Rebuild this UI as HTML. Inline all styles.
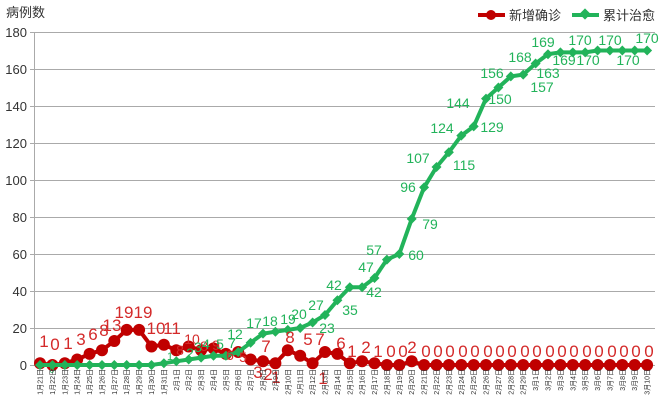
<!DOCTYPE html>
<html><head><meta charset="utf-8"><style>
body{margin:0;background:#fff}
svg{display:block;font-family:"Liberation Sans","Noto Sans CJK SC",sans-serif}
.rl{fill:#d42a2a;font-size:17px;text-anchor:middle}
.gl{fill:#22b35a;font-size:14px;text-anchor:middle}
.xl{font-size:7px;fill:#333;text-anchor:end}
.yl{font-size:13px;fill:#333;text-anchor:end}
</style></head><body>
<svg width="670" height="411" viewBox="0 0 670 411">
<text x="6" y="17" font-size="13" fill="#333">病例数</text>
<g stroke="#aaa" stroke-width="1">
<line x1="30" y1="32.5" x2="655" y2="32.5"/><line x1="30" y1="69.5" x2="655" y2="69.5"/>
<line x1="30" y1="106.5" x2="655" y2="106.5"/><line x1="30" y1="143.5" x2="655" y2="143.5"/>
<line x1="30" y1="180.5" x2="655" y2="180.5"/><line x1="30" y1="217.5" x2="655" y2="217.5"/>
<line x1="30" y1="254.5" x2="655" y2="254.5"/><line x1="30" y1="291.5" x2="655" y2="291.5"/>
<line x1="30" y1="328.5" x2="655" y2="328.5"/><line x1="30" y1="365.5" x2="655" y2="365.5"/>
<line x1="34.5" y1="32" x2="34.5" y2="366"/>
</g>
<g class="yl">
<text x="27" y="37">180</text><text x="27" y="74">160</text><text x="27" y="111">140</text>
<text x="27" y="148">120</text><text x="27" y="185">100</text><text x="27" y="222">80</text>
<text x="27" y="259">60</text><text x="27" y="296">40</text><text x="27" y="333">20</text><text x="27" y="370">0</text>
</g>
<!-- legend -->
<line x1="478" y1="15" x2="505" y2="15" stroke="#c00000" stroke-width="4"/><circle cx="491" cy="15" r="5" fill="#c00000"/>
<text x="509" y="20" font-size="13" fill="#333">新增确诊</text>
<line x1="572" y1="15" x2="599" y2="15" stroke="#22b35a" stroke-width="4"/><rect x="581" y="10" width="8" height="8" transform="rotate(45 585 14)" fill="#22b35a"/>
<text x="603" y="20" font-size="13" fill="#333">累计治愈</text>
<!-- red -->
<polyline fill="none" stroke="#c00000" stroke-width="4" points="40,363.2 52.4,365 64.8,363.2 77.2,359.5 89.6,353.9 102,350.2 114.3,341 126.7,329.9 139.1,329.9 151.5,346.5 163.9,344.7 176.3,350.2 188.7,346.5 201.1,350.2 213.5,348.4 225.9,353.9 238.2,352 250.6,359.5 263,361.3 275.4,363.2 287.8,350.2 300.2,355.8 312.6,363.2 325,352 337.4,353.9 349.8,363.2 362.1,361.3 374.5,363.2 386.9,365 399.3,365 411.7,361.3 424.1,365 436.5,365 448.9,365 461.3,365 473.7,365 486,365 498.4,365 510.8,365 523.2,365 535.6,365 548,365 560.4,365 572.8,365 585.2,365 597.6,365 609.9,365 622.3,365 634.7,365 647.1,365"/>
<g fill="#c00000">
<circle cx="40" cy="363.2" r="6"/><circle cx="52.4" cy="365" r="6"/><circle cx="64.8" cy="363.2" r="6"/><circle cx="77.2" cy="359.5" r="6"/><circle cx="89.6" cy="353.9" r="6"/><circle cx="102" cy="350.2" r="6"/><circle cx="114.3" cy="341" r="6"/><circle cx="126.7" cy="329.9" r="6"/><circle cx="139.1" cy="329.9" r="6"/><circle cx="151.5" cy="346.5" r="6"/><circle cx="163.9" cy="344.7" r="6"/><circle cx="176.3" cy="350.2" r="6"/><circle cx="188.7" cy="346.5" r="6"/><circle cx="201.1" cy="350.2" r="6"/><circle cx="213.5" cy="348.4" r="6"/><circle cx="225.9" cy="353.9" r="6"/><circle cx="238.2" cy="352" r="6"/><circle cx="250.6" cy="359.5" r="6"/><circle cx="263" cy="361.3" r="6"/><circle cx="275.4" cy="363.2" r="6"/><circle cx="287.8" cy="350.2" r="6"/><circle cx="300.2" cy="355.8" r="6"/><circle cx="312.6" cy="363.2" r="6"/><circle cx="325" cy="352" r="6"/><circle cx="337.4" cy="353.9" r="6"/><circle cx="349.8" cy="363.2" r="6"/><circle cx="362.1" cy="361.3" r="6"/><circle cx="374.5" cy="363.2" r="6"/><circle cx="386.9" cy="365" r="6"/><circle cx="399.3" cy="365" r="6"/><circle cx="411.7" cy="361.3" r="6"/><circle cx="424.1" cy="365" r="6"/><circle cx="436.5" cy="365" r="6"/><circle cx="448.9" cy="365" r="6"/><circle cx="461.3" cy="365" r="6"/><circle cx="473.7" cy="365" r="6"/><circle cx="486" cy="365" r="6"/><circle cx="498.4" cy="365" r="6"/><circle cx="510.8" cy="365" r="6"/><circle cx="523.2" cy="365" r="6"/><circle cx="535.6" cy="365" r="6"/><circle cx="548" cy="365" r="6"/><circle cx="560.4" cy="365" r="6"/><circle cx="572.8" cy="365" r="6"/><circle cx="585.2" cy="365" r="6"/><circle cx="597.6" cy="365" r="6"/><circle cx="609.9" cy="365" r="6"/><circle cx="622.3" cy="365" r="6"/><circle cx="634.7" cy="365" r="6"/><circle cx="647.1" cy="365" r="6"/>
</g>
<!-- green -->
<polyline fill="none" stroke="#22b35a" stroke-width="4" points="40,365 52.4,365 64.8,365 77.2,365 89.6,365 102,365 114.3,365 126.7,365 139.1,365 151.5,365 163.9,363.2 176.3,361.3 188.7,359.5 201.1,357.6 213.5,355.8 225.9,355.8 238.2,352 250.6,342.8 263,333.6 275.4,331.7 287.8,329.9 300.2,328 312.6,322.5 325,315 337.4,300.3 349.8,287.3 362.1,287.3 374.5,278 386.9,259.6 399.3,254 411.7,218.9 424.1,187.4 436.5,167 448.9,152.3 461.3,135.6 473.7,126.4 486,98.6 498.4,87.5 510.8,76.4 523.2,74.6 535.6,63.5 548,54.2 560.4,52.4 572.8,52.4 585.2,52.4 597.6,50.5 609.9,50.5 622.3,50.5 634.7,50.5 647.1,50.5"/>
<g fill="#22b35a">
<path d="M40,360l5,5l-5,5l-5,-5zM52.4,360l5,5l-5,5l-5,-5zM64.8,360l5,5l-5,5l-5,-5zM77.2,360l5,5l-5,5l-5,-5zM89.6,360l5,5l-5,5l-5,-5zM102,360l5,5l-5,5l-5,-5zM114.3,360l5,5l-5,5l-5,-5zM126.7,360l5,5l-5,5l-5,-5zM139.1,360l5,5l-5,5l-5,-5zM151.5,360l5,5l-5,5l-5,-5zM163.9,358.2l5,5l-5,5l-5,-5zM176.3,356.3l5,5l-5,5l-5,-5zM188.7,354.5l5,5l-5,5l-5,-5zM201.1,352.6l5,5l-5,5l-5,-5zM213.5,350.8l5,5l-5,5l-5,-5zM225.9,350.8l5,5l-5,5l-5,-5zM238.2,347l5,5l-5,5l-5,-5zM250.6,337.8l5,5l-5,5l-5,-5zM263,328.6l5,5l-5,5l-5,-5zM275.4,326.7l5,5l-5,5l-5,-5zM287.8,324.9l5,5l-5,5l-5,-5zM300.2,323l5,5l-5,5l-5,-5zM312.6,317.5l5,5l-5,5l-5,-5zM325,310l5,5l-5,5l-5,-5zM337.4,295.3l5,5l-5,5l-5,-5zM349.8,282.3l5,5l-5,5l-5,-5zM362.1,282.3l5,5l-5,5l-5,-5zM374.5,273l5,5l-5,5l-5,-5zM386.9,254.6l5,5l-5,5l-5,-5zM399.3,249l5,5l-5,5l-5,-5zM411.7,213.9l5,5l-5,5l-5,-5zM424.1,182.4l5,5l-5,5l-5,-5zM436.5,162l5,5l-5,5l-5,-5zM448.9,147.3l5,5l-5,5l-5,-5zM461.3,130.6l5,5l-5,5l-5,-5zM473.7,121.4l5,5l-5,5l-5,-5zM486,93.6l5,5l-5,5l-5,-5zM498.4,82.5l5,5l-5,5l-5,-5zM510.8,71.4l5,5l-5,5l-5,-5zM523.2,69.6l5,5l-5,5l-5,-5zM535.6,58.5l5,5l-5,5l-5,-5zM548,49.2l5,5l-5,5l-5,-5zM560.4,47.4l5,5l-5,5l-5,-5zM572.8,47.4l5,5l-5,5l-5,-5zM585.2,47.4l5,5l-5,5l-5,-5zM597.6,45.5l5,5l-5,5l-5,-5zM609.9,45.5l5,5l-5,5l-5,-5zM622.3,45.5l5,5l-5,5l-5,-5zM634.7,45.5l5,5l-5,5l-5,-5zM647.1,45.5l5,5l-5,5l-5,-5z"/>
</g>
<!-- red labels -->
<g class="rl">
<text x="44" y="347">1</text><text x="55" y="350">0</text><text x="68" y="349">1</text><text x="81" y="345">3</text><text x="93" y="340">6</text><text x="104" y="336">8</text><text x="112" y="331">13</text><text x="124" y="318">19</text><text x="143" y="318">19</text><text x="156" y="334">10</text><text x="172" y="334">11</text>
<text x="180" y="355" font-size="14">8</text><text x="192" y="344" font-size="14">10</text><text x="204" y="351" font-size="14">8</text><text x="216" y="350" font-size="14">9</text>
<text x="230" y="360" font-size="14">6</text><text x="243" y="362" font-size="14">5</text><text x="266" y="352">7</text><text x="258" y="378">3</text><text x="268" y="380">2</text><text x="276" y="383">1</text>
<text x="290" y="343">8</text><text x="308" y="345">5</text><text x="320" y="345">7</text><text x="323" y="384">1</text><text x="341" y="349">6</text><text x="352" y="357">1</text><text x="366" y="353">2</text><text x="378" y="357">1</text>
<text x="391" y="357">0</text><text x="403" y="357">0</text><text x="412" y="353">2</text>
<text x="426" y="357">0</text><text x="438" y="357">0</text><text x="450" y="357">0</text><text x="463" y="357">0</text><text x="475" y="357">0</text><text x="488" y="357">0</text><text x="500" y="357">0</text><text x="512" y="357">0</text><text x="525" y="357">0</text><text x="537" y="357">0</text><text x="550" y="357">0</text><text x="562" y="357">0</text><text x="574" y="357">0</text><text x="587" y="357">0</text><text x="599" y="357">0</text><text x="612" y="357">0</text><text x="624" y="357">0</text><text x="636" y="357">0</text><text x="649" y="357">0</text>
</g>
<!-- green labels -->
<g class="gl">
<text x="170" y="360" font-size="11">1</text><text x="190" y="358">2</text><text x="198" y="352">3</text><text x="206" y="349">4</text><text x="220" y="349">5</text><text x="232" y="348">7</text>
<text x="235" y="339">12</text><text x="254" y="328">17</text><text x="270" y="326">18</text><text x="288" y="324">19</text><text x="299" y="319">20</text><text x="327" y="333">23</text>
<text x="316" y="310">27</text><text x="350" y="315">35</text><text x="334" y="290">42</text><text x="374" y="297">42</text><text x="366" y="272">47</text><text x="374" y="255">57</text><text x="416" y="260">60</text><text x="430" y="229">79</text>
<text x="408" y="192">96</text><text x="418" y="163">107</text><text x="464" y="170">115</text><text x="442" y="133">124</text><text x="492" y="132">129</text><text x="458" y="108">144</text><text x="500" y="104">150</text><text x="492" y="78">156</text>
<text x="542" y="92">157</text><text x="548" y="78">163</text><text x="520" y="62">168</text><text x="543" y="47">169</text><text x="564" y="65">169</text><text x="580" y="45">170</text><text x="588" y="65">170</text><text x="610" y="45">170</text><text x="628" y="65">170</text><text x="647" y="43">170</text>
<text x="52" y="373" font-size="8">0</text>
</g>
<!-- x labels -->
<g class="xl">
<text transform="translate(42.5,369) rotate(-90)">1月21日</text><text transform="translate(54.9,369) rotate(-90)">1月22日</text><text transform="translate(67.3,369) rotate(-90)">1月23日</text><text transform="translate(79.7,369) rotate(-90)">1月24日</text><text transform="translate(92.1,369) rotate(-90)">1月25日</text><text transform="translate(104.5,369) rotate(-90)">1月26日</text><text transform="translate(116.8,369) rotate(-90)">1月27日</text><text transform="translate(129.2,369) rotate(-90)">1月28日</text><text transform="translate(141.6,369) rotate(-90)">1月29日</text><text transform="translate(154,369) rotate(-90)">1月30日</text><text transform="translate(166.4,369) rotate(-90)">1月31日</text>
<text transform="translate(178.8,369) rotate(-90)">2月1日</text><text transform="translate(191.2,369) rotate(-90)">2月2日</text><text transform="translate(203.6,369) rotate(-90)">2月3日</text><text transform="translate(216,369) rotate(-90)">2月4日</text><text transform="translate(228.4,369) rotate(-90)">2月5日</text><text transform="translate(240.7,369) rotate(-90)">2月6日</text><text transform="translate(253.1,369) rotate(-90)">2月7日</text><text transform="translate(265.5,369) rotate(-90)">2月8日</text><text transform="translate(277.9,369) rotate(-90)">2月9日</text><text transform="translate(290.3,369) rotate(-90)">2月10日</text><text transform="translate(302.7,369) rotate(-90)">2月11日</text><text transform="translate(315.1,369) rotate(-90)">2月12日</text><text transform="translate(327.5,369) rotate(-90)">2月13日</text><text transform="translate(339.9,369) rotate(-90)">2月14日</text><text transform="translate(352.3,369) rotate(-90)">2月15日</text><text transform="translate(364.6,369) rotate(-90)">2月16日</text><text transform="translate(377,369) rotate(-90)">2月17日</text><text transform="translate(389.4,369) rotate(-90)">2月18日</text><text transform="translate(401.8,369) rotate(-90)">2月19日</text><text transform="translate(414.2,369) rotate(-90)">2月20日</text><text transform="translate(426.6,369) rotate(-90)">2月21日</text><text transform="translate(439,369) rotate(-90)">2月22日</text><text transform="translate(451.4,369) rotate(-90)">2月23日</text><text transform="translate(463.8,369) rotate(-90)">2月24日</text><text transform="translate(476.2,369) rotate(-90)">2月25日</text><text transform="translate(488.5,369) rotate(-90)">2月26日</text><text transform="translate(500.9,369) rotate(-90)">2月27日</text><text transform="translate(513.3,369) rotate(-90)">2月28日</text><text transform="translate(525.7,369) rotate(-90)">2月29日</text>
<text transform="translate(538.1,369) rotate(-90)">3月1日</text><text transform="translate(550.5,369) rotate(-90)">3月2日</text><text transform="translate(562.9,369) rotate(-90)">3月3日</text><text transform="translate(575.3,369) rotate(-90)">3月4日</text><text transform="translate(587.7,369) rotate(-90)">3月5日</text><text transform="translate(600.1,369) rotate(-90)">3月6日</text><text transform="translate(612.4,369) rotate(-90)">3月7日</text><text transform="translate(624.8,369) rotate(-90)">3月8日</text><text transform="translate(637.2,369) rotate(-90)">3月9日</text><text transform="translate(649.6,369) rotate(-90)">3月10日</text>
</g>
</svg>
</body></html>
